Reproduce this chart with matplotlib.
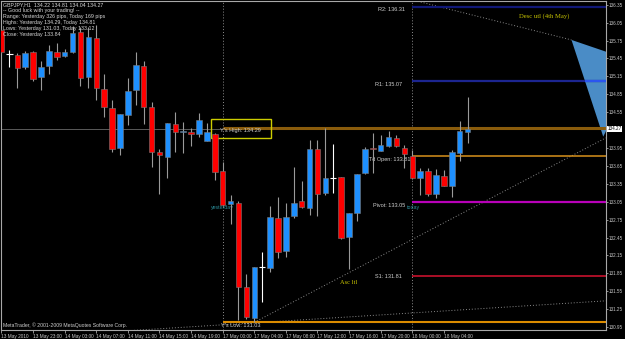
import matplotlib.pyplot as plt
from matplotlib.patches import Rectangle, Polygon
from matplotlib.transforms import blended_transform_factory
import numpy as np

plt.rcParams['font.family'] = ['Liberation Sans', 'DejaVu Sans']

# GBPJPY H1 bars, 13 May 2010 19:00 .. 18 May 07:00
opens = [135.93, 135.52, 135.51, 135.31, 135.56, 135.14, 135.32, 135.56, 135.49, 135.56,
         135.89, 135.14, 135.79, 134.94, 134.62, 133.95, 134.50, 134.92, 135.32, 134.64,
         133.88, 133.80, 134.35, 134.22, 134.21, 134.19, 134.07, 134.19, 133.57, 133.01,
         133.03, 131.62, 131.10, 131.96, 131.94, 132.78, 132.23, 132.81, 133.06, 132.95,
         133.93, 133.20, 133.45, 133.46, 132.46, 132.86, 133.53, 133.95, 133.90, 133.98,
         134.12, 133.95, 133.81, 133.45, 133.57, 133.18, 133.48, 133.31, 133.87, 134.22]
highs = [135.96, 135.59, 135.54, 135.57, 135.57, 135.41, 135.68, 135.71, 135.61, 135.99,
         135.98, 135.98, 136.01, 135.19, 134.75, 134.52, 135.12, 135.56, 135.41, 134.72,
         133.93, 134.37, 134.55, 134.39, 134.29, 134.54, 134.37, 134.20, 133.72, 133.16,
         133.06, 131.84, 131.96, 132.21, 132.98, 133.13, 133.03, 133.63, 133.40, 134.08,
         134.08, 134.29, 134.02, 133.46, 132.86, 133.52, 133.97, 134.20, 134.17, 134.24,
         134.17, 134.00, 133.92, 133.61, 133.61, 133.60, 133.58, 133.92, 134.41, 134.81]
lows = [135.52, 135.31, 134.96, 135.27, 135.07, 134.92, 135.19, 135.42, 135.47, 135.54,
        134.99, 134.96, 134.75, 134.47, 133.88, 133.83, 134.34, 134.67, 134.35, 133.63,
        133.18, 133.45, 133.88, 133.87, 133.98, 134.14, 134.07, 133.41, 132.98, 132.68,
        131.07, 131.09, 131.03, 131.37, 131.87, 132.11, 132.12, 132.78, 132.95, 132.83,
        132.81, 133.16, 133.20, 132.43, 131.92, 132.73, 133.52, 133.53, 133.90, 133.97,
        133.97, 133.61, 133.43, 133.16, 133.15, 133.12, 133.31, 133.13, 133.73, 134.04]
closes = [135.56, 135.52, 135.29, 135.54, 135.11, 135.31, 135.57, 135.47, 135.56, 135.88,
          135.12, 135.81, 134.96, 134.64, 133.93, 134.52, 134.90, 135.34, 134.64, 133.88,
          133.83, 134.37, 134.22, 134.24, 134.18, 134.42, 134.22, 133.55, 133.00, 133.06,
          131.62, 131.12, 131.96, 131.96, 132.79, 132.21, 132.80, 133.03, 132.96, 133.93,
          133.18, 133.45, 133.45, 132.44, 132.86, 133.52, 133.93, 133.93, 134.00, 134.14,
          133.98, 133.85, 133.45, 133.57, 133.18, 133.50, 133.31, 133.88, 134.23, 134.27]

tick_idx = [0, 4, 8, 12, 16, 20, 24, 28, 32, 36, 40, 44, 48, 52, 56]
tick_labels = ['13 May 2010', '13 May 23:00', '14 May 03:00', '14 May 07:00', '14 May 11:00',
               '14 May 15:00', '14 May 19:00', '17 May 00:00', '17 May 04:00', '17 May 08:00',
               '17 May 12:00', '17 May 16:00', '17 May 20:00', '18 May 00:00', '18 May 04:00']
price_ticks = [130.95, 131.25, 131.55, 131.85, 132.15, 132.45, 132.75, 133.05, 133.35, 133.65,
               133.95, 134.25, 134.55, 134.85, 135.15, 135.45, 135.75, 136.05, 136.35]
price_tick_labels = ['130.95', '131.25', '131.55', '131.85', '132.15', '132.45', '132.75',
                     '133.05', '133.35', '133.65', '133.95', '', '134.55', '134.85', '135.15',
                     '135.45', '135.75', '136.05', '136.35']

yesterday_idx = 28
today_idx = 52
bid = 134.27
y_high, y_low = 134.29, 131.03
td_open = 133.81
pivot, r1, r2, s1 = 133.05, 135.07, 136.31, 131.81

# hand drawn objects (bar index, price)
desc_line = [(52.0, 136.43), (72.15, 135.76)]
asc_line = [(32.0, 131.03), (76.5, 134.12)]
low_line = [(12.0, 130.856), (76.5, 131.39)]
triangle = [(72.15, 135.76), (80.8, 135.37), (76.17, 134.14)]

header = ['GBPJPY,H1  134.22 134.81 134.04 134.27',
          '-- Good luck with your trading! --',
          'Range: Yesterday 326 pips, Today 169 pips',
          'Highs: Yesterday 134.29, Today 134.81',
          'Lows: Yesterday 131.03, Today 133.12',
          'Close: Yesterday 133.84']

fig = plt.figure(figsize=(6.25, 3.39), dpi=100, facecolor='black')
ax = fig.add_axes([1 / 625, 9 / 339, 605 / 625, 329 / 339])
ax.set_facecolor('black')
ax.set_xlim(-0.063, 76.52)
ax.set_ylim(130.9015, 136.412)

grey = '#a8a8a8'
for s in ax.spines.values():
    s.set_color(grey)
    s.set_linewidth(0.8)

# separators
for xi in (yesterday_idx, today_idx):
    ax.axvline(xi, color='#8c8c8c', lw=0.7, ls=(0, (1, 2)), zorder=1)

# bid line
ax.axhline(bid, color='#5a5a5a', lw=0.7, zorder=1)

# trend lines
for ln in (desc_line, asc_line, low_line):
    xs, ys = zip(*ln)
    ax.plot(xs, ys, color='#8a8a8a', lw=0.7, ls=(0, (1, 2)), zorder=2)

ax.add_patch(Polygon(triangle, closed=True, facecolor='#4a8cc6', edgecolor='none', zorder=2))

# pivot levels
ax.hlines(r2, today_idx, 80, color='#101878', lw=1.6, zorder=2)
ax.hlines(r1, today_idx, 80, color='#1c2590', lw=1.6, zorder=2)
tri_x = np.interp(r1, [triangle[2][1], triangle[0][1]], [triangle[2][0], triangle[0][0]])
ax.hlines(r1, tri_x, 80, color='#2b55f0', lw=1.6, zorder=3)
ax.hlines(td_open, today_idx, 80, color='#d8921c', lw=1.1, zorder=2)
ax.hlines(pivot, today_idx, 80, color='#b800b8', lw=1.6, zorder=2)
ax.hlines(s1, today_idx, 80, color='#b8102a', lw=1.3, zorder=2)
ax.hlines(y_high, yesterday_idx, 80, color='#8a5c0c', lw=2.2, zorder=2)
ax.hlines(y_low, yesterday_idx, 80, color='#dc8c00', lw=1.5, zorder=2)

lab = dict(color='#cfcfcf', fontsize=4.0, va='center', zorder=2)
ax.text(51.1, 136.278, f'R2: {r2:.2f}', ha='right', **lab)
ax.text(50.7, 135.02, f'R1: {r1:.2f}', ha='right', **lab)
ax.text(51.8, 133.75, f'Td Open: {td_open:.2f}', ha='right', **lab)
ax.text(51.1, 132.995, f'Pivot: {pivot:.2f}', ha='right', **lab)
ax.text(50.7, 131.79, f'S1: {s1:.2f}', ha='right', **lab)
ax.text(27.66, 134.236, f"Y's High: {y_high:.2f}", ha='left', **lab)
ax.text(27.8, 130.97, f"Y's Low: {y_low:.2f}", ha='left', **lab)
ax.text(yesterday_idx, 132.96, 'yesterday', color='#2a8c98', fontsize=3.8, ha='center', va='center')
ax.text(today_idx + 0.1, 132.96, 'today', color='#2a8c98', fontsize=3.8, ha='center', va='center')
ax.add_patch(Rectangle((26.5, 134.12), 7.6, 0.32, fill=False, edgecolor='#cccc00', lw=1.0, zorder=5))

ax.text(65.5, 136.16, 'Desc utl (4th May)', family=['Liberation Serif', 'DejaVu Serif'],
        color='#c8c400', fontsize=4.8, ha='left', va='center')
ax.text(42.85, 131.69, 'Asc ltl', family=['Liberation Serif', 'DejaVu Serif'],
        color='#c8c400', fontsize=4.6, ha='left', va='center')

# candles
for i, (o, h, l, c) in enumerate(zip(opens, highs, lows, closes)):
    if o == c:
        ax.vlines(i, l, h, color='white', lw=0.8, zorder=4)
        ax.hlines(o, i - 0.4, i + 0.4, color='white', lw=0.8, zorder=4)
        continue
    ax.vlines(i, l, h, color='#9a9a9a', lw=0.8, zorder=4)
    col = '#1e90ff' if c > o else '#ff0000'
    ax.add_patch(Rectangle((i - 0.35, min(o, c)), 0.7, abs(c - o), facecolor=col,
                           edgecolor='#7a7a7a', lw=0.4, zorder=5))

# header / footer text
for k, line in enumerate(header):
    ax.text(0.003, 0.988 - k * 0.0178, line, transform=ax.transAxes, color='#d8d8d8',
            fontsize=3.8, ha='left', va='center', zorder=6)
ax.text(0.004, 0.016, 'MetaTrader, \u00a9 2001-2009 MetaQuotes Software Corp.',
        transform=ax.transAxes, color='#cfcfcf', fontsize=3.7, ha='left', va='center')

# axes ticks
ax.yaxis.tick_right()
ax.set_yticks(price_ticks)
ax.set_yticklabels(price_tick_labels)
ax.tick_params(axis='y', colors=grey, labelcolor='#c8c8c8', length=1.5, width=0.6,
               labelsize=3.3, pad=0.6)
ax.set_xticks(tick_idx)
ax.set_xticklabels(tick_labels)
ax.tick_params(axis='x', colors=grey, labelcolor='#c8c8c8', length=2, width=0.6,
               labelsize=3.4, pad=0.8)
plt.setp(ax.get_xticklabels(), ha='left')

tr = blended_transform_factory(ax.transAxes, ax.transData)
ax.text(1.002, bid, f'{bid:.2f}', transform=tr, color='black', fontsize=3.3, ha='left',
        va='center', bbox=dict(facecolor='white', edgecolor='none', pad=0.5), clip_on=False)

fig.savefig('out.png', dpi=100, facecolor='black')
